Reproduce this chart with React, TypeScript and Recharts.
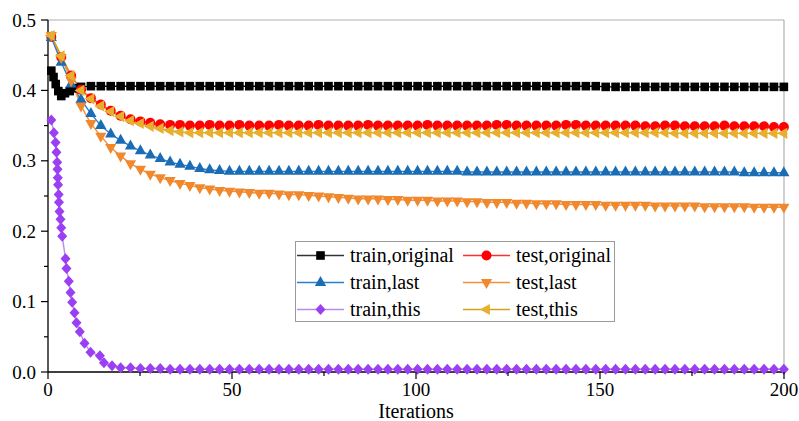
import { LineChart, Line, XAxis, YAxis, ReferenceLine, Legend, Label } from 'recharts'

// iteration grid shared by most series
const ITER = [
  0.9, 3.59, 6.28, 8.97, 11.66, 14.35, 17.04, 19.73, 22.42, 25.11,
  27.8, 30.49, 33.18, 35.87, 38.56, 41.25, 43.94, 46.63, 49.32, 52.01,
  54.7, 57.39, 60.08, 62.77, 65.46, 68.15, 70.84, 73.53, 76.22, 78.91,
  81.6, 84.29, 86.98, 89.67, 92.36, 95.05, 97.74, 100.43, 103.12, 105.81,
  108.5, 111.19, 113.88, 116.57, 119.26, 121.95, 124.64, 127.33, 130.02, 132.71,
  135.4, 138.09, 140.78, 143.47, 146.16, 148.85, 151.54, 154.23, 156.92, 159.61,
  162.3, 164.99, 167.68, 170.37, 173.06, 175.75, 178.44, 181.13, 183.82, 186.51,
  189.2, 191.89, 194.58, 197.27, 199.96,
]

const TRAIN_ORIGINAL_X = [0.9, 1.5, 2.1, 2.8, 3.6, 4.6, 5.9, 7.3, ...ITER.slice(3)]
const TRAIN_ORIGINAL = [
  0.428, 0.419, 0.409, 0.399, 0.392, 0.396, 0.399, 0.403,
  0.405, 0.406, 0.406, 0.406, 0.406, 0.406, 0.406, 0.406, 0.406, 0.406,
  0.406, 0.406, 0.406, 0.406, 0.406, 0.406, 0.406, 0.406, 0.406, 0.406,
  0.406, 0.406, 0.406, 0.406, 0.406, 0.406, 0.406, 0.406, 0.406, 0.406,
  0.406, 0.406, 0.406, 0.406, 0.406, 0.406, 0.406, 0.406, 0.406, 0.406,
  0.406, 0.406, 0.406, 0.406, 0.406, 0.406, 0.406, 0.406, 0.406, 0.406,
  0.406, 0.406, 0.406, 0.405, 0.405, 0.405, 0.405, 0.405, 0.405, 0.405,
  0.405, 0.405, 0.405, 0.405, 0.405, 0.405, 0.405, 0.405, 0.405, 0.405,
  0.405, 0.405,
]

const TEST_ORIGINAL = [
  0.476, 0.447, 0.421, 0.401, 0.389, 0.38, 0.371, 0.364, 0.359, 0.356,
  0.354, 0.352, 0.351, 0.351, 0.35, 0.35, 0.351, 0.35, 0.35, 0.351,
  0.35, 0.35, 0.35, 0.351, 0.35, 0.35, 0.35, 0.351, 0.35, 0.35,
  0.35, 0.35, 0.351, 0.35, 0.35, 0.35, 0.35, 0.35, 0.351, 0.35,
  0.35, 0.35, 0.35, 0.35, 0.35, 0.351, 0.351, 0.35, 0.35, 0.35,
  0.35, 0.35, 0.351, 0.351, 0.35, 0.35, 0.35, 0.35, 0.35, 0.35,
  0.349, 0.349, 0.35, 0.35, 0.349, 0.349, 0.349, 0.349, 0.35, 0.349,
  0.349, 0.349, 0.349, 0.348, 0.348,
]

const TRAIN_LAST = [
  0.475, 0.44, 0.409, 0.387, 0.367, 0.35, 0.338, 0.329, 0.321, 0.314,
  0.308, 0.303, 0.298, 0.295, 0.292, 0.289, 0.287, 0.286, 0.285, 0.285,
  0.285, 0.285, 0.285, 0.285, 0.285, 0.285, 0.285, 0.285, 0.285, 0.285,
  0.285, 0.285, 0.285, 0.285, 0.285, 0.285, 0.285, 0.285, 0.285, 0.285,
  0.285, 0.285, 0.284, 0.284, 0.284, 0.284, 0.284, 0.284, 0.284, 0.284,
  0.284, 0.284, 0.284, 0.284, 0.284, 0.284, 0.284, 0.284, 0.284, 0.284,
  0.284, 0.284, 0.284, 0.284, 0.284, 0.284, 0.284, 0.284, 0.284, 0.284,
  0.283, 0.283, 0.283, 0.283, 0.283,
]

const TEST_LAST = [
  0.478, 0.447, 0.414, 0.378, 0.353, 0.335, 0.319, 0.307, 0.296, 0.288,
  0.281, 0.276, 0.272, 0.268, 0.265, 0.262, 0.26, 0.258, 0.257, 0.256,
  0.255, 0.254, 0.254, 0.253, 0.252, 0.252, 0.251, 0.25, 0.249, 0.248,
  0.247, 0.246, 0.246, 0.246, 0.245, 0.245, 0.244, 0.244, 0.244, 0.243,
  0.243, 0.243, 0.242, 0.242, 0.241, 0.241, 0.241, 0.24, 0.24, 0.239,
  0.239, 0.239, 0.238, 0.238, 0.238, 0.238, 0.237, 0.237, 0.237, 0.237,
  0.237, 0.236, 0.236, 0.236, 0.236, 0.236, 0.235, 0.235, 0.235, 0.235,
  0.235, 0.234, 0.234, 0.234, 0.234,
]

const TRAIN_THIS_X = [
  0.9, 1.6, 2.05, 2.3, 2.5, 2.58, 2.66, 2.74, 2.9, 2.98, 3.12, 3.4, 3.6, 3.86,
  4.76, 5.03, 5.65, 6.11, 6.57, 7.2, 7.74, 8.64, 9.92, 11.55, 14.1, 15.2, 17.4,
  ...ITER.slice(7),
]
const TRAIN_THIS = [
  0.358, 0.34, 0.326, 0.312, 0.298, 0.288, 0.276, 0.266, 0.252, 0.241, 0.228, 0.217, 0.205, 0.193,
  0.161, 0.147, 0.129, 0.113, 0.099, 0.084, 0.07, 0.057, 0.041, 0.028, 0.023, 0.013, 0.009,
  0.006, 0.006, 0.005, 0.005, 0.005, 0.004, 0.004, 0.004, 0.004, 0.004,
  0.004, 0.004, 0.004, 0.004, 0.004, 0.004, 0.004, 0.004, 0.004, 0.004,
  0.004, 0.004, 0.004, 0.004, 0.004, 0.004, 0.004, 0.004, 0.004, 0.004,
  0.004, 0.004, 0.004, 0.004, 0.004, 0.004, 0.004, 0.004, 0.004, 0.004,
  0.004, 0.004, 0.004, 0.004, 0.004, 0.004, 0.004, 0.004, 0.004, 0.004,
  0.004, 0.004, 0.004, 0.004, 0.004, 0.004, 0.004, 0.004, 0.004, 0.004,
  0.004, 0.004, 0.004, 0.004, 0.004, 0.004, 0.004, 0.004,
]

const TEST_THIS = [
  0.478, 0.449, 0.421, 0.4, 0.388, 0.378, 0.37, 0.363, 0.357, 0.353,
  0.349, 0.346, 0.343, 0.341, 0.34, 0.34, 0.34, 0.34, 0.34, 0.34,
  0.34, 0.34, 0.34, 0.34, 0.34, 0.34, 0.34, 0.34, 0.34, 0.34,
  0.34, 0.34, 0.34, 0.34, 0.34, 0.34, 0.34, 0.34, 0.34, 0.34,
  0.34, 0.34, 0.34, 0.34, 0.34, 0.34, 0.34, 0.34, 0.34, 0.34,
  0.34, 0.34, 0.34, 0.34, 0.34, 0.34, 0.34, 0.34, 0.34, 0.34,
  0.34, 0.34, 0.34, 0.339, 0.339, 0.339, 0.339, 0.339, 0.339, 0.339,
  0.339, 0.339, 0.339, 0.339, 0.339,
]

const X_TICKS = [0, 25, 50, 75, 100, 125, 150, 175, 200]
const Y_TICKS = [0, 0.05, 0.1, 0.15, 0.2, 0.25, 0.3, 0.35, 0.4, 0.45, 0.5]

const FONT = '"Liberation Serif", "Times New Roman", serif'

const zip = (xs: number[], ys: number[]) => ys.map((y, i) => ({ x: xs[i], y }))

type Shape = 'square' | 'circle' | 'up' | 'down' | 'diamond' | 'left'

const SERIES: { name: string; data: { x: number; y: number }[]; line: string; legendLine: string; fill: string; shape: Shape }[] = [
  { name: 'train,original', data: zip(TRAIN_ORIGINAL_X, TRAIN_ORIGINAL), line: '#000000', legendLine: '#333333', fill: '#000000', shape: 'square' },
  { name: 'test,original', data: zip(ITER, TEST_ORIGINAL), line: '#ff2020', legendLine: '#ff3030', fill: '#ff0000', shape: 'circle' },
  { name: 'train,last', data: zip(ITER, TRAIN_LAST), line: '#2a7fd0', legendLine: '#2a7fd0', fill: '#1a6db5', shape: 'up' },
  { name: 'test,last', data: zip(ITER, TEST_LAST), line: '#f5913a', legendLine: '#f5913a', fill: '#f0882e', shape: 'down' },
  { name: 'train,this', data: zip(TRAIN_THIS_X, TRAIN_THIS), line: '#b58cf0', legendLine: '#b58cf0', fill: '#9b3ff2', shape: 'diamond' },
  { name: 'test,this', data: zip(ITER, TEST_THIS), line: '#d6a21c', legendLine: '#d6a21c', fill: '#e8ae2e', shape: 'left' },
]

function Marker({ shape, cx, cy, fill }: { shape: Shape; cx: number; cy: number; fill: string }) {
  switch (shape) {
    case 'square':
      return <rect x={cx - 4.3} y={cy - 4.3} width={8.6} height={8.6} fill={fill} />
    case 'circle':
      return <circle cx={cx} cy={cy} r={5} fill={fill} />
    case 'up':
      return <polygon points={`${cx},${cy - 6.6} ${cx + 5.6},${cy + 3.4} ${cx - 5.6},${cy + 3.4}`} fill={fill} />
    case 'down':
      return <polygon points={`${cx},${cy + 6.6} ${cx + 5.6},${cy - 3.4} ${cx - 5.6},${cy - 3.4}`} fill={fill} />
    case 'diamond':
      return <polygon points={`${cx},${cy - 5.5} ${cx + 5},${cy} ${cx},${cy + 5.5} ${cx - 5},${cy}`} fill={fill} />
    default:
      return <polygon points={`${cx - 6.6},${cy} ${cx + 3.4},${cy - 5.6} ${cx + 3.4},${cy + 5.6}`} fill={fill} />
  }
}

const XTick = (props: any) => {
  const { x, y, payload } = props
  const major = payload.value % 50 === 0
  return (
    <g>
      <line x1={x} x2={x} y1={y} y2={y + (major ? 7 : 4)} stroke="#000" strokeWidth={1.2} />
      {major && (
        <text x={x} y={y + 17} textAnchor="middle" dominantBaseline="central" style={{ fontFamily: FONT }} fontSize={19} fill="#000">
          {payload.value}
        </text>
      )}
    </g>
  )
}

const YTick = (props: any) => {
  const { x, y, payload } = props
  const major = Math.round(payload.value * 100) % 10 === 0
  return (
    <g>
      <line x1={x} x2={x - (major ? 7 : 4)} y1={y} y2={y} stroke="#000" strokeWidth={1.2} />
      {major && (
        <text x={x - 12} y={y} textAnchor="end" dominantBaseline="central" style={{ fontFamily: FONT }} fontSize={19} fill="#000">
          {payload.value.toFixed(1)}
        </text>
      )}
    </g>
  )
}

const LegendBox = () => (
  <svg width={320} height={81}>
    <rect x={0.5} y={0.5} width={319} height={80} fill="#fff" stroke="#9a9a9a" />
    {SERIES.map((s, i) => {
      const x0 = i % 2 ? 168 : 2
      const y = 14.5 + Math.floor(i / 2) * 27
      return (
        <g key={s.name}>
          <line x1={x0} x2={x0 + 47} y1={y} y2={y} stroke={s.legendLine} strokeWidth={1.5} />
          <Marker shape={s.shape} cx={x0 + 23.5} cy={y} fill={s.fill} />
          <text x={x0 + 53} y={y + 6} style={{ fontFamily: FONT }} fontSize={20} fill="#000">
            {s.name}
          </text>
        </g>
      )
    })}
  </svg>
)

export default function App() {
  return (
    <div style={{ position: 'absolute', left: 0, top: 0, width: 799, height: 421, background: '#fff' }}>
      <LineChart width={799} height={421} margin={{ top: 20, right: 15, bottom: 0, left: 0 }} style={{ fontFamily: FONT }}>
        <XAxis
          type="number"
          dataKey="x"
          domain={[0, 200]}
          ticks={X_TICKS}
          interval={0}
          tick={<XTick />}
          tickLine={false}
          tickSize={0}
          tickMargin={0}
          height={49}
          axisLine={{ stroke: '#000', strokeWidth: 1.3 }}
        >
          <Label
            content={(p: any) => (
              <text
                x={p.viewBox.x + p.viewBox.width / 2}
                y={p.viewBox.y + 46}
                textAnchor="middle"
                style={{ fontFamily: FONT }}
                fontSize={20}
                fill="#000"
              >
                Iterations
              </text>
            )}
          />
        </XAxis>
        <YAxis
          type="number"
          domain={[0, 0.5]}
          ticks={Y_TICKS}
          interval={0}
          tick={<YTick />}
          tickLine={false}
          tickSize={0}
          tickMargin={0}
          width={48}
          axisLine={{ stroke: '#000', strokeWidth: 1.3 }}
        />
        <ReferenceLine y={0.5} stroke="#b0b0b0" strokeWidth={1.2} />
        <ReferenceLine x={200} stroke="#b0b0b0" strokeWidth={1.2} />
        {SERIES.map((s) => (
          <Line
            key={s.name}
            data={s.data}
            dataKey="y"
            type="linear"
            stroke={s.line}
            strokeWidth={1.4}
            isAnimationActive={false}
            activeDot={false}
            dot={(p: any) => <Marker key={`${s.name}-${p.index}`} shape={s.shape} cx={p.cx} cy={p.cy} fill={s.fill} />}
          />
        ))}
        <Legend
          layout="horizontal"
          verticalAlign="middle"
          align="center"
          content={() => <LegendBox />}
          wrapperStyle={{ left: 295, top: 241, width: 320, height: 81 }}
        />
      </LineChart>
    </div>
  )
}
